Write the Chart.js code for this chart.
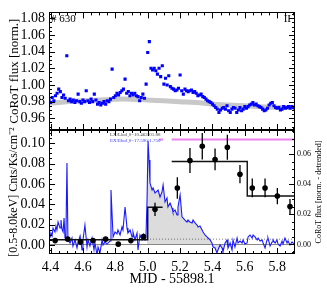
<!DOCTYPE html>
<html>
<head>
<meta charset="utf-8">
<script src="https://cdn.jsdelivr.net/npm/chart.js@4.4.1/dist/chart.umd.min.js"></script>
<style>
  html, body { margin: 0; padding: 0; background: #fff; }
  #wrap { position: relative; width: 327px; height: 289px; }
  canvas { position: absolute; left: 0; top: 0; }
</style>
</head>
<body>
<div id="wrap">
  <canvas id="lower" width="327" height="289"></canvas>
  <canvas id="upper" width="327" height="289"></canvas>
</div>
<script>
// ---- axis ticks ----
const xTicks = [4.4, 4.6, 4.8, 5.0, 5.2, 5.4, 5.6, 5.8];
const topYTicks = [0.96, 0.98, 1.00, 1.02, 1.04, 1.06, 1.08];
const xrayYTicks = [0.00, 0.02, 0.04, 0.06, 0.08, 0.10];
const corotYTicks = [0.00, 0.02, 0.04, 0.06];

// ---- upper panel: CoRoT light curve (norm.) ----
const topTime = [
  4.39, 4.40, 4.41, 4.42, 4.43, 4.44, 4.45, 4.46, 4.47, 4.48,
  4.49, 4.50, 4.51, 4.52, 4.53, 4.54, 4.55, 4.56, 4.57, 4.58,
  4.59, 4.60, 4.61, 4.62, 4.63, 4.64, 4.65, 4.66, 4.67, 4.68,
  4.69, 4.70, 4.71, 4.72, 4.73, 4.74, 4.75, 4.76, 4.77, 4.78,
  4.79, 4.80, 4.81, 4.82, 4.83, 4.84, 4.85, 4.86, 4.87, 4.88,
  4.89, 4.90, 4.91, 4.92, 4.93, 4.94, 4.95, 4.96, 4.97, 4.98,
  4.99, 5.00, 5.01, 5.02, 5.03, 5.04, 5.05, 5.06, 5.07, 5.08,
  5.09, 5.10, 5.11, 5.12, 5.13, 5.14, 5.15, 5.16, 5.17, 5.18,
  5.19, 5.20, 5.21, 5.22, 5.23, 5.24, 5.25, 5.26, 5.27, 5.28,
  5.29, 5.30, 5.31, 5.32, 5.33, 5.34, 5.35, 5.36, 5.37, 5.38,
  5.39, 5.40, 5.41, 5.42, 5.43, 5.44, 5.45, 5.46, 5.47, 5.48,
  5.49, 5.50, 5.51, 5.52, 5.53, 5.54, 5.55, 5.56, 5.57, 5.58,
  5.59, 5.60, 5.61, 5.62, 5.63, 5.64, 5.65, 5.66, 5.67, 5.68,
  5.69, 5.70, 5.71, 5.72, 5.73, 5.74, 5.75, 5.76, 5.77, 5.78,
  5.79, 5.80, 5.81, 5.82, 5.83, 5.84, 5.85, 5.86, 5.87, 5.88,
  5.89, 5.90, 5.91
];
const topFlux = [
  0.982, 0.979, 0.985, 0.981, 0.987, 0.990, 0.995, 0.992, 0.985, 0.988,
  0.984, 1.035, 0.981, 0.983, 0.980, 0.982, 0.979, 0.981, 0.989, 0.980,
  0.978, 0.982, 0.980, 0.993, 0.981, 0.979, 0.983, 0.980, 0.989, 0.982,
  0.977, 0.979, 0.976, 0.978, 0.980, 0.977, 0.981, 0.980, 0.983, 1.019,
  0.985, 0.987, 0.990, 0.988, 0.991, 0.993, 0.995, 1.007, 0.990, 0.992,
  0.987, 0.990, 0.988, 0.990, 0.987, 0.986, 0.981, 0.985, 0.989, 0.984,
  1.001, 1.039, 1.052, 1.020, 1.018, 1.020, 1.017, 1.013, 1.020, 1.010,
  1.023, 1.001, 1.008, 1.000, 1.011, 0.998, 0.996, 0.995, 0.993, 0.994,
  0.996, 1.012, 0.993, 0.989, 0.995, 0.993, 0.992, 0.993, 0.994, 0.991,
  0.992, 0.990, 0.987, 0.988, 0.989, 0.986, 0.985, 0.983, 0.981, 0.980,
  0.979, 0.977, 0.975, 0.973, 0.971, 0.967, 0.970, 0.972, 0.973, 0.971,
  0.975, 0.969, 0.967, 0.971, 0.973, 0.972, 0.967, 0.970, 0.973, 0.969,
  0.971, 0.974, 0.972, 0.974, 0.976, 0.977, 0.979, 0.976, 0.977, 0.975,
  0.974, 0.973, 0.971, 0.969, 0.970, 0.972, 0.976, 0.978, 0.979, 0.975,
  0.973, 0.972, 0.973, 0.970, 0.971, 0.974, 0.972, 0.973, 0.974, 0.972,
  0.974, 0.973, 0.972
];
// quiescent trend (grey)
const modelTime = [4.39, 4.50, 4.60, 4.70, 4.80, 4.90, 5.00, 5.10, 5.20, 5.30, 5.40, 5.50, 5.60, 5.70, 5.80, 5.91];
const modelFlux = [0.978, 0.980, 0.981, 0.982, 0.983, 0.983, 0.982, 0.981, 0.980, 0.979, 0.977, 0.976, 0.975, 0.974, 0.973, 0.973];

// ---- lower panel: CoRoT detrended ----
const corotTime = [
  4.396, 4.402, 4.409, 4.415, 4.427, 4.433, 4.439, 4.446, 4.458, 4.464,
  4.470, 4.477, 4.483, 4.489, 4.495, 4.501, 4.507, 4.520, 4.532, 4.538,
  4.551, 4.563, 4.569, 4.582, 4.594, 4.600, 4.612, 4.625, 4.631, 4.643,
  4.656, 4.668, 4.674, 4.687, 4.693, 4.705, 4.718, 4.724, 4.736, 4.748,
  4.767, 4.773, 4.786, 4.798, 4.810, 4.816, 4.829, 4.841, 4.847, 4.860,
  4.872, 4.878, 4.891, 4.903, 4.909, 4.921, 4.934, 4.940, 4.952, 4.965,
  4.971, 4.983, 4.989, 4.996, 5.002, 5.008, 5.014, 5.027, 5.033, 5.045,
  5.064, 5.076, 5.088, 5.095, 5.107, 5.119, 5.125, 5.138, 5.150, 5.156,
  5.169, 5.181, 5.187, 5.200, 5.212, 5.218, 5.230, 5.243, 5.249, 5.261,
  5.274, 5.280, 5.292, 5.305, 5.311, 5.323, 5.336, 5.342, 5.354, 5.366,
  5.373, 5.385, 5.397, 5.404, 5.416, 5.428, 5.434, 5.447, 5.459, 5.465,
  5.478, 5.490, 5.496, 5.509, 5.521, 5.527, 5.539, 5.552, 5.558, 5.570,
  5.583, 5.589, 5.601, 5.614, 5.620, 5.632, 5.645, 5.651, 5.663, 5.676,
  5.682, 5.694, 5.707, 5.713, 5.725, 5.737, 5.743, 5.756, 5.768, 5.774,
  5.787, 5.799, 5.805, 5.818, 5.830, 5.836, 5.848, 5.861, 5.867, 5.879,
  5.892, 5.904
];
const corotFlux = [
  0.0043, 0.0076, 0.0056, 0.0109, 0.0083, 0.0123, 0.0096, 0.0149, 0.0109, 0.0162,
  0.0103, 0.0083, 0.0176, 0.0043, 0.0083, 0.0540, 0.0030, 0.0010, 0.0043, -0.0010,
  0.0030, -0.0023, 0.0010, 0.0056, -0.0036, 0.0030, 0.0129, -0.0017, 0.0030, -0.0010,
  0.0043, -0.0036, 0.0010, -0.0070, -0.0017, -0.0056, 0.0030, -0.0003, 0.0017, 0.0003,
  0.0023, 0.0361, 0.0050, 0.0083, 0.0070, 0.0096, 0.0063, 0.0116, 0.0096, 0.0249,
  0.0109, 0.0076, 0.0096, 0.0050, 0.0083, 0.0030, 0.0076, -0.0036, 0.0063, 0.0030,
  0.0043, 0.0030, 0.0043, 0.0300, 0.0686, 0.0560, 0.0408, 0.0361, 0.0375, 0.0341,
  0.0361, 0.0315, 0.0348, 0.0394, 0.0282, 0.0308, 0.0249, 0.0275, 0.0242, 0.0215,
  0.0229, 0.0196, 0.0249, 0.0328, 0.0182, 0.0176, 0.0162, 0.0149, 0.0162, 0.0149,
  0.0143, 0.0162, 0.0143, 0.0129, 0.0116, 0.0123, 0.0096, 0.0083, 0.0063, 0.0050,
  0.0043, 0.0030, 0.0010, -0.0017, -0.0023, -0.0056, -0.0036, -0.0003, -0.0023, -0.0050,
  0.0010, 0.0030, -0.0023, 0.0010, -0.0036, 0.0030, -0.0017, 0.0043, 0.0010, 0.0023,
  0.0010, 0.0030, 0.0003, 0.0010, 0.0050, 0.0063, 0.0043, 0.0063, 0.0050, 0.0030,
  0.0043, 0.0023, 0.0030, 0.0010, -0.0023, 0.0030, 0.0043, -0.0010, 0.0017, 0.0030,
  0.0010, 0.0030, 0.0003, -0.0010, 0.0023, 0.0003, 0.0043, 0.0010, 0.0023, -0.0003,
  0.0017, 0.0003
];
const flareStart = 4.996;
const flareEnd = 5.496;

// ---- lower panel: X-ray rate [0.5-8.0 keV] ----
const xrayTime = [4.428, 4.506, 4.584, 4.662, 4.740, 4.818, 4.896, 4.974, 5.045, 5.183,
                  5.261, 5.337, 5.416, 5.492, 5.570, 5.646, 5.725, 5.801, 5.879];
const xrayRate = [0.0042, 0.0056, 0.0027, 0.0042, 0.0056, 0.0007, 0.0042, 0.0082, 0.035, 0.056,
                  0.083, 0.097, 0.084, 0.096, 0.0695, 0.056, 0.056, 0.048, 0.0377];
const xrayErr  = [0.002, 0.002, 0.002, 0.002, 0.002, 0.002, 0.002, 0.003, 0.0065, 0.0106,
                  0.0123, 0.013, 0.0107, 0.0123, 0.009, 0.0092, 0.0092, 0.008, 0.0074];
// bayesian blocks
const blockStart = [4.39, 5.000, 5.148, 5.615];
const blockEnd   = [5.000, 5.092, 5.615, 5.91];
const blockRate  = [0.0050, 0.037, 0.082, 0.048];
const quietLevel = 0.0056;
const markStart = [5.07, 5.148];
const markEnd   = [5.095, 5.91];
const markLevel = 0.1037;

Chart.defaults.font.family = 'Liberation Serif';
Chart.defaults.color = '#000';

const pts = (xs, ys) => xs.map((x, i) => ({x: x, y: ys[i]}));

function segs(starts, ends, levels) {
  const out = [];
  starts.forEach((s, i) => {
    const lv = Array.isArray(levels) ? levels[i] : levels;
    out.push({x: s, y: lv}, {x: ends[i], y: lv});
    if (i < starts.length - 1 && starts[i + 1] !== ends[i]) out.push({x: ends[i], y: null});
  });
  return out;
}

// box with inward ticks on all sides
const frame = {
  id: 'frame',
  afterDatasetsDraw(chart, args, o) {
    const {ctx, chartArea: a} = chart;
    const xs = chart.scales.x, yl = chart.scales[o.left], yr = chart.scales[o.right];
    const snap = v => Math.round(v) + 0.5;
    ctx.save();
    ctx.strokeStyle = '#000';
    ctx.lineWidth = 1;
    ctx.beginPath();
    const mark = (scale, step, len, fn) => {
      const k0 = Math.ceil(scale.min / step - 1e-6), k1 = Math.floor(scale.max / step + 1e-6);
      for (let k = k0; k <= k1; k++) fn(snap(scale.getPixelForValue(k * step)), len);
    };
    const majors = (scale, len, fn) => scale.ticks.forEach(t => fn(snap(scale.getPixelForValue(t.value)), len));
    const xf = (p, l) => { ctx.moveTo(p, a.bottom); ctx.lineTo(p, a.bottom - l); ctx.moveTo(p, a.top); ctx.lineTo(p, a.top + l); };
    const lf = (p, l) => { ctx.moveTo(a.left, p); ctx.lineTo(a.left + l, p); };
    const rf = (p, l) => { ctx.moveTo(a.right, p); ctx.lineTo(a.right - l, p); };
    mark(xs, o.xMinor, 3, xf); majors(xs, 6, xf);
    mark(yl, o.lMinor, 3, lf); majors(yl, 6, lf);
    mark(yr, o.rMinor, 3, rf); majors(yr, 6, rf);
    ctx.stroke();
    ctx.strokeRect(snap(a.left), snap(a.top), Math.round(a.right - a.left) - 1, Math.round(a.bottom - a.top) - 1);
    ctx.restore();
  }
};

const errorBars = {
  id: 'errorBars',
  afterDatasetsDraw(chart) {
    const {ctx} = chart;
    const xs = chart.scales.x, ys = chart.scales.y;
    ctx.save();
    ctx.strokeStyle = '#000';
    ctx.lineWidth = 1.3;
    ctx.beginPath();
    xrayTime.forEach((t, i) => {
      const px = xs.getPixelForValue(t);
      ctx.moveTo(px, Math.max(ys.getPixelForValue(xrayRate[i] + xrayErr[i]), chart.chartArea.top));
      ctx.lineTo(px, ys.getPixelForValue(xrayRate[i] - xrayErr[i]));
    });
    ctx.stroke();
    ctx.restore();
  }
};

const upperNotes = {
  id: 'upperNotes',
  afterDraw(chart) {
    const {ctx, chartArea: a} = chart;
    ctx.save();
    ctx.fillStyle = '#000';
    ctx.font = '11px Liberation Serif';
    ctx.textBaseline = 'alphabetic';
    ctx.fillText('# 630', a.left + 2, a.top + 10);
    ctx.textAlign = 'right';
    ctx.fillText('II', a.right - 4, a.top + 10);
    ctx.restore();
  }
};

const lowerNotes = {
  id: 'lowerNotes',
  afterDraw(chart) {
    const {ctx, chartArea: a} = chart;
    ctx.save();
    ctx.font = '5px Liberation Serif';
    ctx.fillStyle = '#444';
    ctx.fillText('LX/Lbol,0=10.462/01.88', 110, 136);
    ctx.fillStyle = '#3a3aff';
    ctx.fillText('EX/Ebol,0=17.590/1.750', 110, 142);
    ctx.fillStyle = '#000';
    ctx.font = '8px Liberation Serif';
    ctx.textAlign = 'center';
    ctx.textBaseline = 'middle';
    ctx.translate(319, (a.top + a.bottom) / 2);
    ctx.rotate(-Math.PI / 2);
    ctx.fillText('CoRoT flux [norm. - detrended]', 0, 0);
    ctx.restore();
  }
};

const setTicks = vals => s => { s.ticks = vals.map(v => ({value: v})); };
const xScale = h => ({
  type: 'linear', min: 4.39, max: 5.91,
  afterBuildTicks: setTicks(xTicks),
  afterFit: s => { s.height = h; },
  grid: {display: false, drawTicks: false},
  border: {display: false}
});

new Chart(document.getElementById('upper'), {
  type: 'scatter',
  data: {
    datasets: [
      {data: pts(topTime, topFlux), pointStyle: 'rect', pointRadius: 2.2, backgroundColor: '#0000ff', borderWidth: 0, order: 0},
      {data: pts(modelTime, modelFlux), showLine: true, borderColor: '#c8c8c8', borderWidth: 5, pointRadius: 0, tension: 0.4, order: 1}
    ]
  },
  options: {
    responsive: false, animation: false, events: [],
    layout: {padding: {top: 8, right: 32, left: 0, bottom: 0}},
    plugins: {
      legend: {display: false}, tooltip: {enabled: false},
      frame: {left: 'y', right: 'y', xMinor: 0.05, lMinor: 0.005, rMinor: 0.005}
    },
    scales: {
      x: Object.assign(xScale(159), {ticks: {display: false}}),
      y: {
        min: 0.946, max: 1.087,
        afterBuildTicks: setTicks(topYTicks),
        afterFit: s => { s.width = 49; },
        ticks: {padding: 4, font: {size: 14}, autoSkip: false, callback: v => v.toFixed(2)},
        grid: {display: false, drawTicks: false},
        border: {display: false},
        title: {display: true, text: 'CoRoT flux [norm.]', font: {size: 13}, padding: {top: 7, bottom: 0}}
      }
    }
  },
  plugins: [frame, upperNotes]
});

new Chart(document.getElementById('lower'), {
  type: 'scatter',
  data: {
    datasets: [
      {data: pts(xrayTime, xrayRate), pointRadius: 2.8, backgroundColor: '#000', borderWidth: 0, yAxisID: 'y', order: 0},
      {data: segs(blockStart, blockEnd, blockRate), showLine: true, borderColor: '#111', borderWidth: 1.4, pointRadius: 0, yAxisID: 'y', order: 1},
      {data: segs(markStart, markEnd, markLevel), showLine: true, borderColor: '#ee82ee', borderWidth: 2, pointRadius: 0, yAxisID: 'y', order: 2},
      {data: pts(corotTime, corotFlux), showLine: true, borderColor: '#1a1aff', borderWidth: 1.1, pointRadius: 0, yAxisID: 'y2', order: 3},
      {data: segs([flareStart], [5.91], quietLevel), showLine: true, borderColor: '#555', borderWidth: 0.8, borderDash: [1, 2], pointRadius: 0, yAxisID: 'y', order: 4},
      {data: segs([4.39], [5.91], 0), showLine: true, borderColor: '#888', borderWidth: 1, pointRadius: 0, yAxisID: 'y2', order: 5},
      {data: pts(corotTime, corotFlux).filter(p => p.x >= flareStart && p.x <= flareEnd), showLine: true, fill: 'origin',
       backgroundColor: '#dcdcdc', borderWidth: 0, borderColor: 'rgba(0,0,0,0)', pointRadius: 0, yAxisID: 'y2', order: 6}
    ]
  },
  options: {
    responsive: false, animation: false, events: [],
    layout: {padding: {top: 130, right: 0, left: 0, bottom: 0}},
    plugins: {
      legend: {display: false}, tooltip: {enabled: false},
      frame: {left: 'y', right: 'y2', xMinor: 0.05, lMinor: 0.005, rMinor: 0.005}
    },
    scales: {
      x: Object.assign(xScale(35), {
        ticks: {padding: 5, font: {size: 14}, autoSkip: false, maxRotation: 0, callback: v => v.toFixed(1)},
        title: {display: true, text: 'MJD - 55898.1', font: {size: 14}, padding: {top: 0, bottom: 1}}
      }),
      y: {
        min: -0.009, max: 0.113,
        afterBuildTicks: setTicks(xrayYTicks),
        afterFit: s => { s.width = 49; },
        ticks: {padding: 4, font: {size: 14}, autoSkip: false, callback: v => v.toFixed(2)},
        grid: {display: false, drawTicks: false},
        border: {display: false},
        title: {display: true, text: '[0.5-8.0keV] Cnts/Ks/cm\u207B\u00B2', font: {size: 12}, padding: {top: 7, bottom: 0}}
      },
      y2: {
        position: 'right',
        min: -0.0063, max: 0.0759,
        afterBuildTicks: setTicks(corotYTicks),
        afterFit: s => { s.width = 32; },
        ticks: {padding: 2, font: {size: 8}, autoSkip: false, callback: v => v.toFixed(2)},
        grid: {display: false, drawTicks: false},
        border: {display: false}
      }
    }
  },
  plugins: [frame, errorBars, lowerNotes]
});
</script>
</body>
</html>
